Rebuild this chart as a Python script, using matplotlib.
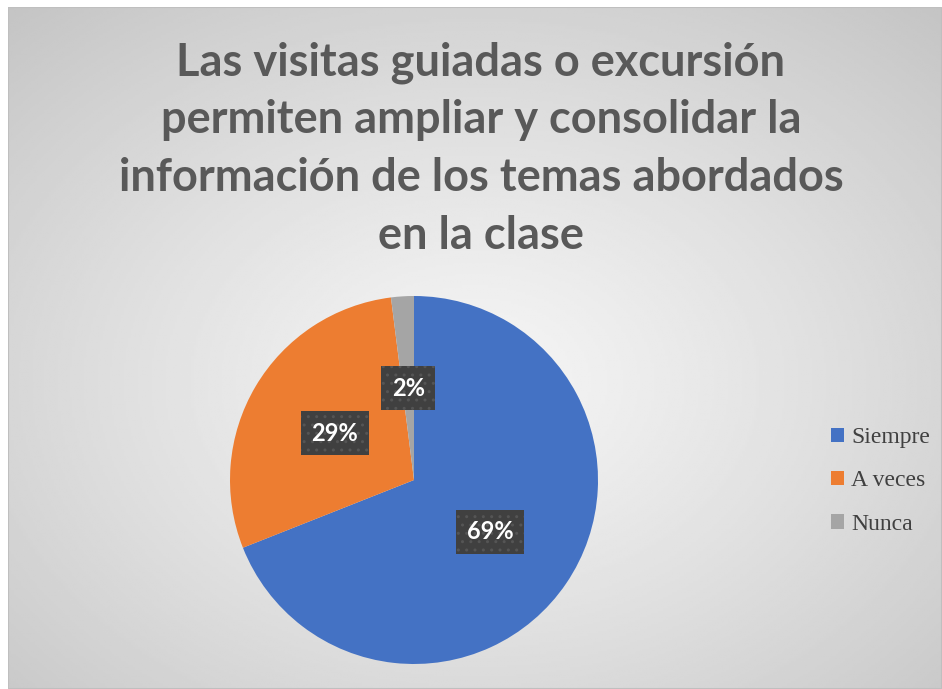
import numpy as np
import matplotlib.pyplot as plt
from matplotlib.patches import Rectangle

# Survey answers
categories = ['Siempre', 'A veces', 'Nunca']
shares = [69, 29, 2]
colors = ['#4472C4', '#ED7D31', '#A5A5A5']

title = ('Las visitas guiadas o excursión\n'
         'permiten ampliar y consolidar la\n'
         'información de los temas abordados\n'
         'en la clase')

W, H = 942, 689
fig = plt.figure(figsize=(W / 100, H / 100), dpi=100)
fig.patch.set_facecolor('white')

# chart area background with a radial grey gradient
bg = fig.add_axes([8 / W, 0, (W - 8) / W, (H - 7) / H])
yy, xx = np.mgrid[0:1:300j, 0:1:400j]
r = np.sqrt(((xx - 0.5) / 0.5) ** 2 + ((yy - 0.55) / 0.5) ** 2) / np.sqrt(2)
shade = 0.96 - 0.18 * r ** 1.2
bg.imshow(shade, cmap='gray', vmin=0, vmax=1, aspect='auto', extent=[0, 1, 0, 1])
bg.add_patch(Rectangle((0, 0), 1, 1, fill=False, edgecolor='#bfbfbf', lw=1.5,
                       transform=bg.transAxes))
bg.axis('off')

# pie
cx, cy, rad = 414, H - 480, 184
ax = fig.add_axes([(cx - rad) / W, (cy - rad) / H, 2 * rad / W, 2 * rad / H])
wedges, texts, autotexts = ax.pie(shares, colors=colors, startangle=90, counterclock=False,
                                  autopct='%1.0f%%', pctdistance=0.5, radius=1,
                                  wedgeprops=dict(linewidth=0))
ax.set_xlim(-1, 1)
ax.set_ylim(-1, 1)
ax.set_aspect('equal')
ax.axis('off')

for t in autotexts:
    t.set_color('white')
    t.set_fontsize(17)
    t.set_fontweight('bold')
    t.set_family(['Lato', 'DejaVu Sans'])
    t.set_bbox(dict(boxstyle='square,pad=0.45', facecolor='#404040',
                    edgecolor='#555555', linewidth=0, hatch='..'))

fig.text(481 / W, 1 - 149 / H, title, ha='center', va='center', fontsize=32.5,
         fontweight='bold', color='#595959', linespacing=1.46,
         family=['Lato', 'DejaVu Sans'])

# legend
leg = fig.legend(wedges, categories, loc='center left',
                 bbox_to_anchor=(810 / W, 1 - 481 / H), frameon=False,
                 prop={'family': 'Liberation Serif', 'size': 17},
                 handlelength=0.55, handleheight=0.55, handletextpad=0.3,
                 labelspacing=0.95, labelcolor='#404040')

fig.savefig('out.png', dpi=100)
